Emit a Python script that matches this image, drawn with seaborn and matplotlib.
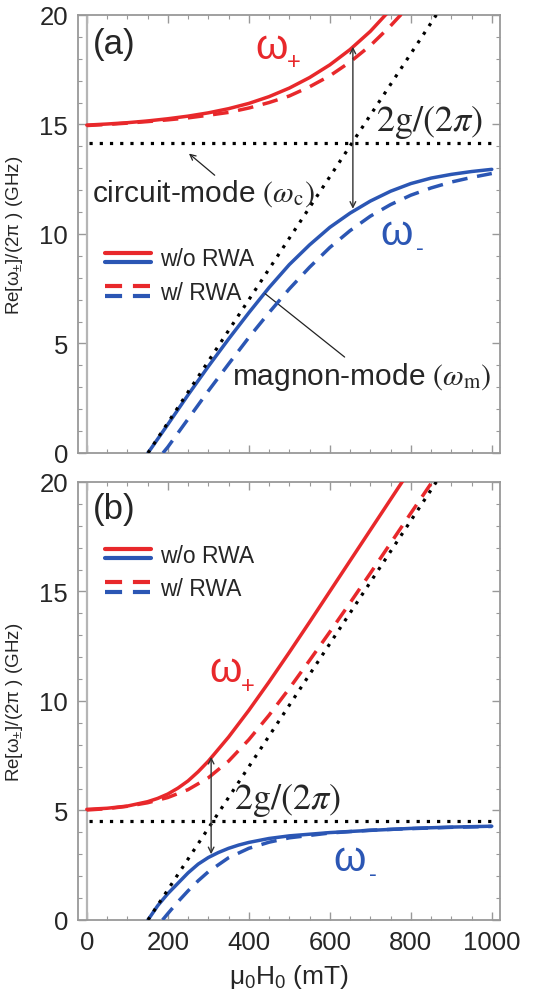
import matplotlib
matplotlib.use("Agg")
import matplotlib.pyplot as plt
from matplotlib.lines import Line2D
from matplotlib.legend_handler import HandlerBase
from matplotlib.ticker import MultipleLocator
import seaborn as sns

# ---- values (field in mT, frequency in GHz) ----
# panel (a)
a_field_plus_full = [0, 50, 100, 150, 200, 250, 300, 350, 400, 450, 500, 550, 600, 650, 700, 740]
a_plus_full = [14.97, 15.02, 15.08, 15.16, 15.26, 15.38, 15.53, 15.72, 15.96, 16.27, 16.66, 17.14, 17.72, 18.42, 19.25, 20.05]
a_field_plus_rwa = [0, 50, 100, 150, 200, 250, 300, 350, 400, 450, 500, 550, 600, 650, 700, 750, 780]
a_plus_rwa = [14.95, 15.0, 15.06, 15.13, 15.21, 15.3, 15.42, 15.55, 15.75, 16.0, 16.3, 16.72, 17.22, 17.85, 18.6, 19.5, 20.1]
a_field_minus_full = [151, 200, 250, 300, 350, 400, 450, 500, 550, 600, 650, 700, 750, 800, 850, 900, 950, 1000]
a_minus_full = [0.0, 1.3, 2.65, 3.95, 5.2, 6.4, 7.55, 8.6, 9.5, 10.3, 10.95, 11.5, 11.95, 12.3, 12.55, 12.72, 12.85, 12.95]
a_field_minus_rwa = [188, 200, 250, 300, 350, 400, 450, 500, 550, 600, 650, 700, 750, 800, 850, 900, 950, 1000]
a_minus_rwa = [0.0, 0.27, 1.55, 2.83, 4.06, 5.27, 6.41, 7.49, 8.48, 9.38, 10.15, 10.81, 11.34, 11.77, 12.1, 12.37, 12.58, 12.76]
a_circuit = 14.15
a_res_field = 657
a_gap = (11.15, 18.55)

# panel (b)
b_field_plus_full = [0, 50, 100, 150, 175, 200, 225, 250, 275, 300, 350, 400, 450, 500, 550, 600, 650, 700, 750, 800]
b_plus_full = [5.05, 5.1, 5.2, 5.4, 5.55, 5.75, 6.02, 6.35, 6.77, 7.25, 8.35, 9.57, 10.87, 12.22, 13.6, 15.0, 16.4, 17.8, 19.2, 20.6]
b_field_plus_rwa = [0, 50, 100, 150, 200, 250, 300, 350, 400, 450, 500, 550, 600, 650, 700, 750, 800, 860]
b_plus_rwa = [5.02, 5.08, 5.19, 5.35, 5.59, 5.95, 6.49, 7.25, 8.23, 9.35, 10.57, 11.85, 13.15, 14.48, 15.83, 17.2, 18.57, 20.2]
b_field_minus_full = [151, 175, 200, 250, 275, 300, 325, 350, 375, 400, 450, 500, 600, 700, 800, 900, 1000]
b_minus_full = [0.0, 0.65, 1.2, 2.15, 2.55, 2.85, 3.08, 3.27, 3.42, 3.54, 3.72, 3.84, 3.99, 4.09, 4.18, 4.24, 4.28]
b_field_minus_rwa = [187, 200, 225, 250, 275, 300, 350, 400, 450, 500, 600, 700, 800, 900, 1000]
b_minus_rwa = [0.0, 0.29, 0.83, 1.33, 1.79, 2.2, 2.84, 3.27, 3.55, 3.75, 3.97, 4.1, 4.17, 4.23, 4.27]
b_circuit = 4.5
b_res_field = 307
b_gap = (3.0, 7.45)

# bare magnon mode (same in both panels)
magnon_field = [151, 863]
magnon_freq = [0, 20]
circuit_field = [5, 1000]

RED = "#e8282b"
BLUE = "#2b56b4"
LW = 2.5
DASH = (0, (4.5, 2.8))
DOT = (0, (1, 2.2))

sns.set_style("ticks")
plt.rcParams["font.family"] = ["Liberation Sans", "DejaVu Sans"]
plt.rcParams["mathtext.fontset"] = "custom"
plt.rcParams["mathtext.rm"] = "Liberation Sans"
plt.rcParams["mathtext.it"] = "Liberation Sans:italic"


class TwoTone(HandlerBase):
    # legend key: red line above blue line
    def __init__(self, ls):
        super().__init__()
        self.ls = ls

    def create_artists(self, legend, orig_handle, xdescent, ydescent,
                       width, height, fontsize, trans):
        arts = []
        for frac, col in ((0.8, RED), (0.2, BLUE)):
            y = -ydescent + frac * height
            ln = Line2D([-xdescent, -xdescent + width], [y, y], color=col,
                        lw=LW + 0.5, linestyle=self.ls, dash_capstyle="butt")
            ln.set_transform(trans)
            arts.append(ln)
        return arts


def panel(ax, pf, p, prf, pr, mf, m, mrf, mr, circuit, res, gap):
    ax.axvline(0, color="#b5b5b5", lw=1.6, zorder=1)
    sns.lineplot(x=pf, y=p, ax=ax, color=RED, lw=LW, zorder=3)
    sns.lineplot(x=mf, y=m, ax=ax, color=BLUE, lw=LW, zorder=3)
    sns.lineplot(x=prf, y=pr, ax=ax, color=RED, lw=LW, linestyle=DASH, zorder=4)
    sns.lineplot(x=mrf, y=mr, ax=ax, color=BLUE, lw=LW, linestyle=DASH, zorder=4)
    sns.lineplot(x=magnon_field, y=magnon_freq, ax=ax, color="black", lw=2.3,
                 linestyle=DOT, zorder=5)
    sns.lineplot(x=circuit_field, y=[circuit, circuit], ax=ax, color="black",
                 lw=2.3, linestyle=DOT, zorder=5)
    ax.annotate("", xy=(res, gap[1]), xytext=(res, gap[0]),
                arrowprops=dict(arrowstyle="<->", color="#333333", lw=1.0,
                                shrinkA=0, shrinkB=0, mutation_scale=10), zorder=6)
    ax.set_xlim(-22, 1020)
    ax.set_ylim(0, 20)
    ax.xaxis.set_major_locator(MultipleLocator(200))
    ax.xaxis.set_minor_locator(MultipleLocator(50))
    ax.yaxis.set_major_locator(MultipleLocator(5))
    ax.yaxis.set_minor_locator(MultipleLocator(1))
    ax.tick_params(which="both", direction="in", top=True, right=True,
                   color="#999999", labelsize=18.5, pad=7)
    ax.tick_params(which="major", length=6, width=1)
    ax.tick_params(which="minor", length=3, width=0.8)
    for s in ax.spines.values():
        s.set_color("#999999")
        s.set_linewidth(1.3)
    ax.set_ylabel(r"Re[ω$\mathregular{_{\pm}}$]/(2π ) (GHz)", fontsize=13.5)
    ax.yaxis.set_label_coords(-0.125, 0.5)


def omega(ax, x, y, sub, color):
    # big omega with a small sign as subscript
    ax.text(x, y, "ω", fontsize=30, color=color, ha="center", va="center")
    ax.annotate(sub, xy=(x, y), xytext=(16.5, -11), textcoords="offset points",
                fontsize=17, color=color, ha="center", va="center")


fig = plt.figure(figsize=(5.41, 10.03), dpi=100)
ax1 = fig.add_axes([0.144, 0.5474, 0.780, 0.4367])
ax2 = fig.add_axes([0.144, 0.0818, 0.780, 0.4367])

panel(ax1, a_field_plus_full, a_plus_full, a_field_plus_rwa, a_plus_rwa,
      a_field_minus_full, a_minus_full, a_field_minus_rwa, a_minus_rwa,
      a_circuit, a_res_field, a_gap)
panel(ax2, b_field_plus_full, b_plus_full, b_field_plus_rwa, b_plus_rwa,
      b_field_minus_full, b_minus_full, b_field_minus_rwa, b_minus_rwa,
      b_circuit, b_res_field, b_gap)

ax1.tick_params(labelbottom=False)
ax1.set_xlabel("")
ax2.set_xlabel(r"μ$\mathregular{_0}$H$\mathregular{_0}$ (mT)", fontsize=19, labelpad=6)

# legends
for ax, anchor in ((ax1, (0.015, 0.405)), (ax2, (0.015, 0.795))):
    h_full = Line2D([], [], color=RED)
    h_rwa = Line2D([], [], color=RED, linestyle="--")
    ax.legend([h_full, h_rwa], ["w/o RWA", "w/ RWA"], loc="center left",
              bbox_to_anchor=anchor, frameon=False, fontsize=16.5,
              handlelength=2.0, handletextpad=0.4, labelspacing=0.45,
              handler_map={h_full: TwoTone("-"), h_rwa: TwoTone((0, (4.1, 2.6)))})

# panel (a) labels
ax1.text(15, 18.7, "(a)", fontsize=25, ha="left", va="center")
omega(ax1, 455, 18.55, "+", RED)
omega(ax1, 765, 10.05, "-", BLUE)
ax1.text(847, 15.15, r"$\mathrm{2g/(2}\pi\mathrm{)}$", fontsize=26,
         math_fontfamily="stix", ha="center", va="center")
ax1.text(12, 11.9, r"circuit-mode $(\omega_{\mathrm{c}})$", fontsize=21.5,
         math_fontfamily="stix", ha="left", va="center")
ax1.annotate("", xy=(247, 13.75), xytext=(321, 12.6),
             arrowprops=dict(arrowstyle="->", color="#222222", lw=0.9))
ax1.text(358, 3.5, r"magnon-mode $(\omega_{\mathrm{m}})$", fontsize=21.5,
         math_fontfamily="stix", ha="left", va="center")
ax1.annotate("", xy=(435, 7.35), xytext=(642, 4.3),
             arrowprops=dict(arrowstyle="-", color="#222222", lw=0.9))

# panel (b) labels
ax2.text(15, 18.77, "(b)", fontsize=25, ha="left", va="center")
omega(ax2, 342, 11.4, "+", RED)
omega(ax2, 650, 2.8, "-", BLUE)
ax2.text(496, 5.48, r"$\mathrm{2g/(2}\pi\mathrm{)}$", fontsize=26,
         math_fontfamily="stix", ha="center", va="center")

fig.savefig("out.png", dpi=100)
